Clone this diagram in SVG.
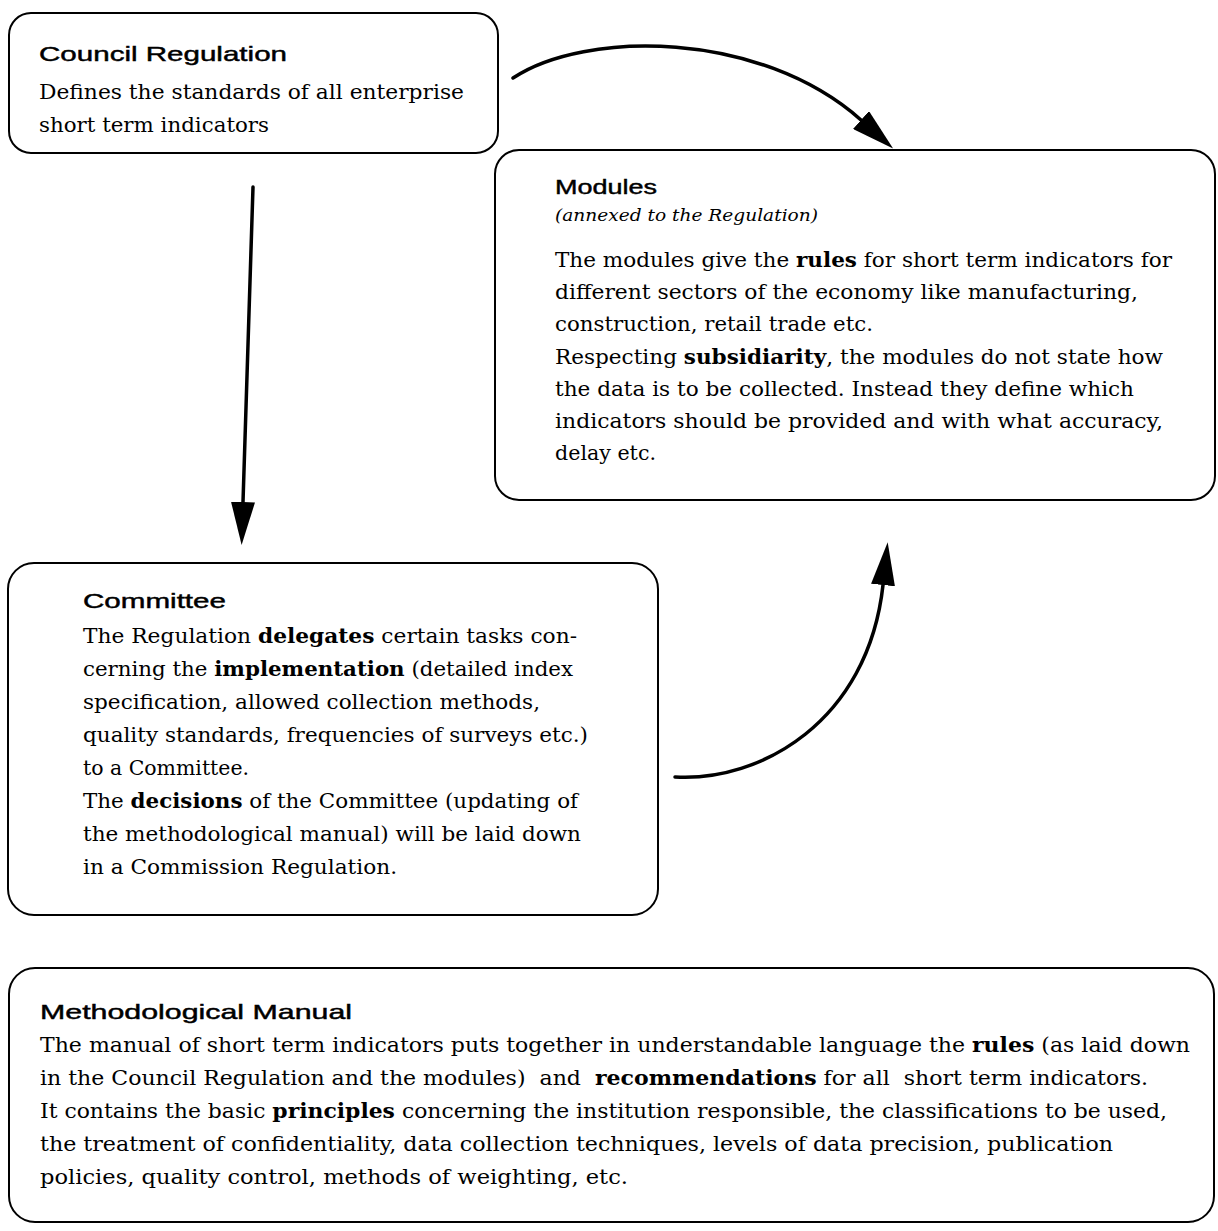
<svg xmlns="http://www.w3.org/2000/svg" width="1218" height="1231" viewBox="0 0 1218 1231">
<style>
.box{fill:#fff;stroke:#000;stroke-width:2}
.ttl{font-family:"Liberation Sans",Arial,sans-serif;font-size:21px;fill:#000;stroke:#000;stroke-width:0.45}
.txt{font-family:"DejaVu Serif","Liberation Serif",serif;font-size:19.5px;fill:#000}
.it{font-family:"DejaVu Serif","Liberation Serif",serif;font-size:17px;font-style:italic;fill:#000}
.b{font-weight:bold}
.con{fill:none;stroke:#000;stroke-width:3.5;stroke-linecap:round}
</style>
<defs>
<marker id="ah" markerUnits="userSpaceOnUse" viewBox="0 0 43 24" refX="0" refY="12" markerWidth="43" markerHeight="24" orient="auto">
<path d="M0,0 L43,12 L0,24 z" fill="#000"/>
</marker>
</defs>
<rect width="1218" height="1231" fill="#fff"/>
<g id="connectors">
<path class="con" d="M513,78 C585,30 760,30 861,120" marker-end="url(#ah)"/>
<path class="con" d="M253,187 L243,502" marker-end="url(#ah)"/>
<path class="con" d="M675,777 C760,782 868,722 883,585" marker-end="url(#ah)"/>
</g>
<g id="council">
<rect class="box" x="9" y="13" width="489" height="140" rx="22"/>
<text class="ttl" x="39" y="61" textLength="248" lengthAdjust="spacingAndGlyphs">Council Regulation</text>
<text class="txt" x="39" y="99" textLength="425" lengthAdjust="spacingAndGlyphs">Defines the standards of all enterprise</text>
<text class="txt" x="39" y="132" textLength="230" lengthAdjust="spacingAndGlyphs">short term indicators</text>
</g>
<g id="modules">
<rect class="box" x="495" y="150" width="720" height="350" rx="24"/>
<text class="ttl" x="555" y="194" textLength="102" lengthAdjust="spacingAndGlyphs">Modules</text>
<text class="it" x="555" y="221" textLength="263" lengthAdjust="spacingAndGlyphs">(annexed to the Regulation)</text>
<text class="txt" x="555" y="267" textLength="617" lengthAdjust="spacingAndGlyphs">The modules give the <tspan class="b">rules</tspan> for short term indicators for</text>
<text class="txt" x="555" y="299" textLength="583" lengthAdjust="spacingAndGlyphs">different sectors of the economy like manufacturing,</text>
<text class="txt" x="555" y="331" textLength="318" lengthAdjust="spacingAndGlyphs">construction, retail trade etc.</text>
<text class="txt" x="555" y="364" textLength="608" lengthAdjust="spacingAndGlyphs">Respecting <tspan class="b">subsidiarity</tspan>, the modules do not state how</text>
<text class="txt" x="555" y="396" textLength="579" lengthAdjust="spacingAndGlyphs">the data is to be collected. Instead they define which</text>
<text class="txt" x="555" y="428" textLength="608" lengthAdjust="spacingAndGlyphs">indicators should be provided and with what accuracy,</text>
<text class="txt" x="555" y="460" textLength="101" lengthAdjust="spacingAndGlyphs">delay etc.</text>
</g>
<g id="committee">
<rect class="box" x="8" y="563" width="650" height="352" rx="26"/>
<text class="ttl" x="83" y="608" textLength="143" lengthAdjust="spacingAndGlyphs">Committee</text>
<text class="txt" x="83" y="643" textLength="494" lengthAdjust="spacingAndGlyphs">The Regulation <tspan class="b">delegates</tspan> certain tasks con-</text>
<text class="txt" x="83" y="676" textLength="490" lengthAdjust="spacingAndGlyphs">cerning the <tspan class="b">implementation</tspan> (detailed index</text>
<text class="txt" x="83" y="709" textLength="457" lengthAdjust="spacingAndGlyphs">specification, allowed collection methods,</text>
<text class="txt" x="83" y="742" textLength="505" lengthAdjust="spacingAndGlyphs">quality standards, frequencies of surveys etc.)</text>
<text class="txt" x="83" y="775" textLength="166" lengthAdjust="spacingAndGlyphs">to a Committee.</text>
<text class="txt" x="83" y="808" textLength="495" lengthAdjust="spacingAndGlyphs">The <tspan class="b">decisions</tspan> of the Committee (updating of</text>
<text class="txt" x="83" y="841" textLength="498" lengthAdjust="spacingAndGlyphs">the methodological manual) will be laid down</text>
<text class="txt" x="83" y="874" textLength="314" lengthAdjust="spacingAndGlyphs">in a Commission Regulation.</text>
</g>
<g id="manual">
<rect class="box" x="9" y="968" width="1205" height="254" rx="26"/>
<text class="ttl" x="40" y="1019" textLength="312" lengthAdjust="spacingAndGlyphs">Methodological Manual</text>
<text class="txt" x="40" y="1052" textLength="1150" lengthAdjust="spacingAndGlyphs">The manual of short term indicators puts together in understandable language the <tspan class="b">rules</tspan> (as laid down</text>
<text class="txt" x="40" y="1085" textLength="1108" lengthAdjust="spacingAndGlyphs" xml:space="preserve">in the Council Regulation and the modules)  and  <tspan class="b">recommendations</tspan> for all  short term indicators.</text>
<text class="txt" x="40" y="1118" textLength="1127" lengthAdjust="spacingAndGlyphs">It contains the basic <tspan class="b">principles</tspan> concerning the institution responsible, the classifications to be used,</text>
<text class="txt" x="40" y="1151" textLength="1073" lengthAdjust="spacingAndGlyphs">the treatment of confidentiality, data collection techniques, levels of data precision, publication</text>
<text class="txt" x="40" y="1184" textLength="588" lengthAdjust="spacingAndGlyphs">policies, quality control, methods of weighting, etc.</text>
</g>
</svg>
